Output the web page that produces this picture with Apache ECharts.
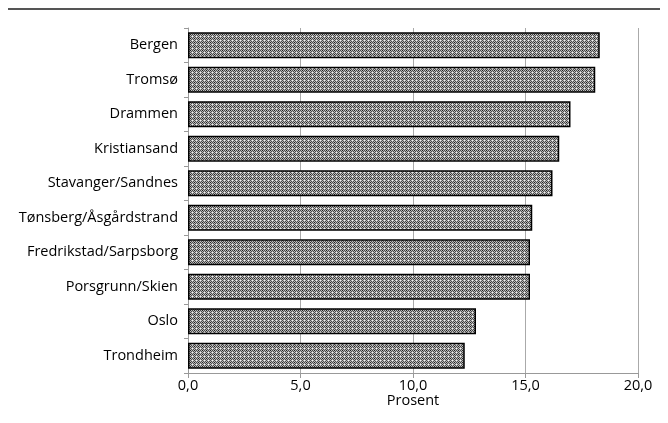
<!DOCTYPE html>
<html><head><meta charset="utf-8">
<script src="https://cdn.jsdelivr.net/npm/echarts@6/dist/echarts.min.js"></script>
<style>html,body{margin:0;padding:0;background:#fff}#c{width:668px;height:423px}</style>
</head><body><div id="c"></div>
<script>
const categories = ["Bergen","Tromsø","Drammen","Kristiansand","Stavanger/Sandnes","Tønsberg/Åsgårdstrand","Fredrikstad/Sarpsborg","Porsgrunn/Skien","Oslo","Trondheim"];
const values = [18.3, 18.1, 17.0, 16.5, 16.2, 15.3, 15.2, 15.2, 12.8, 12.3];
const xAxisName = "Prosent";

const pc = document.createElement('canvas');
pc.width = 4; pc.height = 4;
const g = pc.getContext('2d');
for (let y = 0; y < 4; y++) for (let x = 0; x < 4; x++) {
  let c = ((x + y) % 2 === 0) ? '#4a4a4a' : '#bcbcbc';
  if (x === 0 && y === 0) c = '#f0f0f0';
  if (x === 2 && y === 2) c = '#202020';
  g.fillStyle = c; g.fillRect(x, y, 1, 1);
}

const chart = echarts.init(document.getElementById('c'), null, {renderer:'canvas'});
const font = '"Open Sans", "Noto Sans", sans-serif';
chart.setOption({
  animation:false,
  textStyle:{fontFamily:font},
  graphic:[{type:'rect', shape:{x:8,y:8,width:652,height:2}, style:{fill:'#555'}}],
  grid:{left:188, right:30, top:28, bottom:50},
  xAxis:{type:'value', min:0, max:20, interval:5,
    name:xAxisName, nameLocation:'middle', nameGap:20, nameMoveOverlap:false,
    nameTextStyle:{color:'#000', fontSize:14.5, fontFamily:font},
    axisLine:{show:true, lineStyle:{color:'#999'}},
    axisTick:{show:true, length:5, lineStyle:{color:'#999'}},
    axisLabel:{color:'#000', fontSize:14.5, margin:5, fontFamily:font, formatter:v=>v.toFixed(1).replace('.',',')},
    splitLine:{show:true, lineStyle:{color:'#aaa'}}},
  yAxis:{type:'category', data:categories, inverse:true,
    axisLine:{show:true, lineStyle:{color:'#999'}},
    axisTick:{show:true, length:4, lineStyle:{color:'#999'}},
    axisLabel:{color:'#000', fontSize:14.5, margin:10, fontFamily:font}},
  series:[{type:'bar', data:values, barWidth:'76%',
    itemStyle:{color:{image:pc, repeat:'repeat'}, borderColor:'#000', borderWidth:1.5}}]
});
</script></body></html>
